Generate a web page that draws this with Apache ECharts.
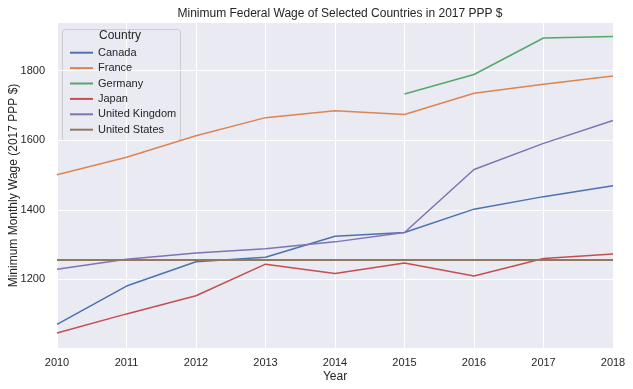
<!DOCTYPE html>
<html><head><meta charset="utf-8">
<script src="https://cdn.jsdelivr.net/npm/echarts@6/dist/echarts.min.js"></script>
<style>html,body{margin:0;padding:0;background:#fff}#c{width:633px;height:389px}</style>
</head><body><div id="c"></div>
<script>
const years = [2010, 2011, 2012, 2013, 2014, 2015, 2016, 2017, 2018];
const canada = [1071, 1181, 1251, 1264, 1324, 1335, 1402, 1438, 1469];
const france = [1501, 1551, 1613, 1665, 1685, 1674, 1735, 1761, 1785];
const germany = [null, null, null, null, null, 1733, 1789, 1894, 1898];
const japan = [1046, 1101, 1153, 1244, 1217, 1247, 1210, 1260, 1273];
const uk = [1229, 1258, 1276, 1288, 1308, 1335, 1516, 1591, 1657];
const us = [1256, 1256, 1256, 1256, 1256, 1256, 1256, 1256, 1256];
const yTicks = [1200, 1400, 1600, 1800];
const names = ['Canada', 'France', 'Germany', 'Japan', 'United Kingdom', 'United States'];
const colors = ['#4c72b0', '#dd8452', '#55a868', '#c44e52', '#8172b3', '#937860'];
const values = [canada, france, germany, japan, uk, us];

const font = '"Liberation Sans", Arial, sans-serif';
const chart = echarts.init(document.getElementById('c'));
chart.setOption({
  backgroundColor: '#ffffff',
  animation: false,
  title: {
    text: 'Minimum Federal Wage of Selected Countries in 2017 PPP $',
    left: 335, top: 3, textAlign: 'center',
    textStyle: { fontFamily: font, fontSize: 12, fontWeight: 'normal', color: '#262626' }
  },
  grid: { left: 57, right: 20, top: 23, bottom: 41, show: true, backgroundColor: '#eaeaf2', borderWidth: 0,
    containLabel: false, outerBoundsMode: 'none' },
  xAxis: {
    type: 'value', min: 2010, max: 2018, interval: 1,
    name: 'Year', nameLocation: 'middle', nameGap: 23, nameMoveOverlap: false,
    nameTextStyle: { fontFamily: font, fontSize: 12, color: '#262626' },
    axisLine: { show: false }, axisTick: { show: false },
    axisLabel: { fontFamily: font, fontSize: 11, color: '#262626', margin: 9, formatter: v => String(v) },
    splitLine: { show: true, lineStyle: { color: '#ffffff', width: 1 } }
  },
  yAxis: {
    type: 'value', min: 1003, max: 1937,
    name: 'Minimum Monthly Wage (2017 PPP $)', nameLocation: 'middle', nameGap: 37, nameMoveOverlap: false,
    nameTextStyle: { fontFamily: font, fontSize: 12, color: '#262626' },
    axisLine: { show: false },
    axisTick: { show: false, customValues: yTicks },
    axisLabel: { fontFamily: font, fontSize: 11, color: '#262626', margin: 12, customValues: yTicks,
      formatter: v => String(v) },
    splitLine: { show: true, lineStyle: { color: '#ffffff', width: 1 } }
  },
  legend: {
    orient: 'vertical', left: 65, top: 41,
    itemWidth: 23, itemHeight: 2, itemGap: 2, icon: 'rect',
    textStyle: { fontFamily: font, fontSize: 11, color: '#262626', lineHeight: 13.4, padding: [0, 0, 0, 0] },
    data: names
  },
  graphic: [
    { type: 'rect', left: 62, top: 29, z: 0, zlevel: 0,
      shape: { width: 118, height: 111, r: 3 },
      style: { fill: 'rgba(234,234,242,0.8)', stroke: '#cccccc', lineWidth: 1 } },
    { type: 'text', left: 99, top: 30, z: 5,
      style: { text: 'Country', font: '12px ' + font, fill: '#262626' } }
  ],
  series: names.map((n, i) => ({
    name: n, type: 'line', color: colors[i], showSymbol: false, symbol: 'none',
    lineStyle: { width: i === 5 ? 2 : 1.5, color: colors[i] },
    data: years.map((y, j) => [y, values[i][j]]),
    connectNulls: false
  }))
});
</script></body></html>
